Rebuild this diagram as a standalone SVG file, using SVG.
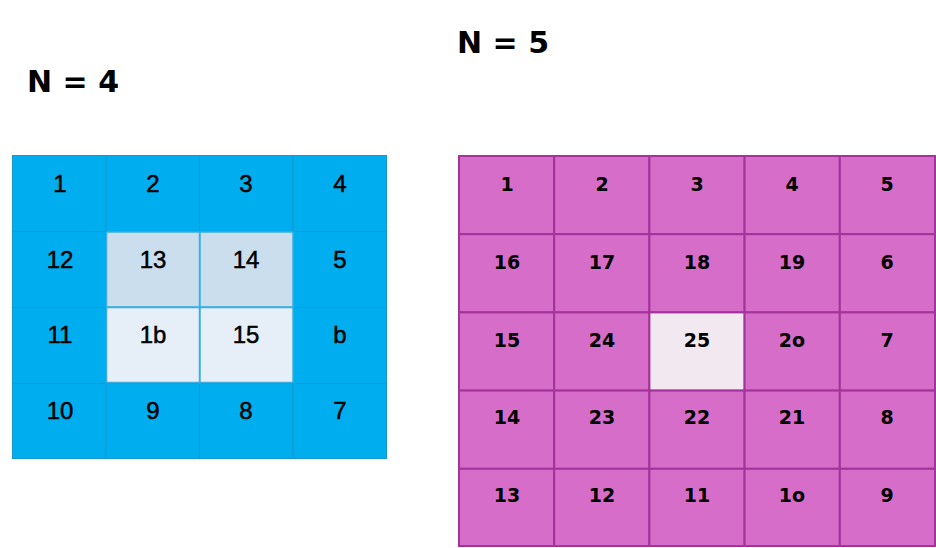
<svg xmlns="http://www.w3.org/2000/svg" width="936" height="548" viewBox="0 0 936 548">
<style>
.b{fill:#00AEEF;stroke:#1598CC;stroke-width:1}
.l1{fill:#CBDEEE;stroke:#3AAEE0;stroke-width:1.5}
.l2{fill:#E6EFF8;stroke:#3AAEE0;stroke-width:1.5}
.m{fill:#D66DC8;stroke:#A4339B;stroke-width:2}
.w{fill:#F2E8F0;stroke:#A4339B;stroke-width:2}
.t{font-family:"Liberation Sans",Arial,sans-serif;font-size:24px;fill:#000;stroke:#000;stroke-width:0.5;text-anchor:middle;dominant-baseline:central}
.s{font-family:"DejaVu Sans",sans-serif;font-size:19px;font-weight:bold;fill:#000;text-anchor:middle;dominant-baseline:central}
.h{font-family:"DejaVu Sans",sans-serif;font-size:30px;font-weight:bold;fill:#000}
</style>
<rect width="936" height="548" fill="#fff"/>
<text class="h" x="27" y="92">N = 4</text>
<text class="h" x="457" y="53">N = 5</text>
<g id="grid4">
<rect x="12.5" y="155.5" width="374" height="303" fill="#00AEEF" stroke="#8FD3F2" stroke-width="1"/>
<g id="c4-1"><rect class="b" x="12.5" y="155.5" width="93.5" height="76"/><text class="t" x="60" y="183">1</text></g>
<g id="c4-2"><rect class="b" x="106" y="155.5" width="93.5" height="76"/><text class="t" x="153" y="183">2</text></g>
<g id="c4-3"><rect class="b" x="199.5" y="155.5" width="93.5" height="76"/><text class="t" x="246" y="183">3</text></g>
<g id="c4-4"><rect class="b" x="293" y="155.5" width="93.5" height="76"/><text class="t" x="340" y="183">4</text></g>
<g id="c4-12"><rect class="b" x="12.5" y="231.5" width="93.5" height="76"/><text class="t" x="60" y="259">12</text></g>
<g id="c4-5"><rect class="b" x="293" y="231.5" width="93.5" height="76"/><text class="t" x="340" y="259">5</text></g>
<g id="c4-11"><rect class="b" x="12.5" y="307.5" width="93.5" height="76"/><text class="t" x="60" y="334">11</text></g>
<g id="c4-6"><rect class="b" x="293" y="307.5" width="93.5" height="76"/><text class="t" x="340" y="334">b</text></g>
<g id="c4-10"><rect class="b" x="12.5" y="383.5" width="93.5" height="75"/><text class="t" x="60" y="410">10</text></g>
<g id="c4-9"><rect class="b" x="106" y="383.5" width="93.5" height="75"/><text class="t" x="153" y="410">9</text></g>
<g id="c4-8"><rect class="b" x="199.5" y="383.5" width="93.5" height="75"/><text class="t" x="246" y="410">8</text></g>
<g id="c4-7"><rect class="b" x="293" y="383.5" width="93.5" height="75"/><text class="t" x="340" y="410">7</text></g>
<g id="c4-13"><rect class="l1" x="106.5" y="232" width="93" height="75"/><text class="t" x="153" y="259">13</text></g>
<g id="c4-14"><rect class="l1" x="200" y="232" width="93" height="75"/><text class="t" x="246" y="259">14</text></g>
<g id="c4-16"><rect class="l2" x="106.5" y="307.5" width="93" height="75"/><text class="t" x="153" y="334">1b</text></g>
<g id="c4-15"><rect class="l2" x="200" y="307.5" width="93" height="75"/><text class="t" x="246" y="334">15</text></g>
</g>
<g id="grid5">
<g id="c5-1"><rect class="m" x="459" y="156" width="95.2" height="78.2"/><text class="s" x="507" y="184">1</text></g>
<g id="c5-2"><rect class="m" x="554.2" y="156" width="95.2" height="78.2"/><text class="s" x="602" y="184">2</text></g>
<g id="c5-3"><rect class="m" x="649.4" y="156" width="95.2" height="78.2"/><text class="s" x="697" y="184">3</text></g>
<g id="c5-4"><rect class="m" x="744.6" y="156" width="95.2" height="78.2"/><text class="s" x="792" y="184">4</text></g>
<g id="c5-5"><rect class="m" x="839.8" y="156" width="95.2" height="78.2"/><text class="s" x="887" y="184">5</text></g>
<g id="c5-16"><rect class="m" x="459" y="234.2" width="95.2" height="78.2"/><text class="s" x="507" y="262">16</text></g>
<g id="c5-17"><rect class="m" x="554.2" y="234.2" width="95.2" height="78.2"/><text class="s" x="602" y="262">17</text></g>
<g id="c5-18"><rect class="m" x="649.4" y="234.2" width="95.2" height="78.2"/><text class="s" x="697" y="262">18</text></g>
<g id="c5-19"><rect class="m" x="744.6" y="234.2" width="95.2" height="78.2"/><text class="s" x="792" y="262">19</text></g>
<g id="c5-6"><rect class="m" x="839.8" y="234.2" width="95.2" height="78.2"/><text class="s" x="887" y="262">6</text></g>
<g id="c5-15"><rect class="m" x="459" y="312.4" width="95.2" height="78.2"/><text class="s" x="507" y="340">15</text></g>
<g id="c5-24"><rect class="m" x="554.2" y="312.4" width="95.2" height="78.2"/><text class="s" x="602" y="340">24</text></g>
<g id="c5-25"><rect class="w" x="649.4" y="312.4" width="95.2" height="78.2"/><text class="s" x="697" y="340">25</text></g>
<g id="c5-20"><rect class="m" x="744.6" y="312.4" width="95.2" height="78.2"/><text class="s" x="792" y="340">2o</text></g>
<g id="c5-7"><rect class="m" x="839.8" y="312.4" width="95.2" height="78.2"/><text class="s" x="887" y="340">7</text></g>
<g id="c5-14"><rect class="m" x="459" y="390.6" width="95.2" height="78.2"/><text class="s" x="507" y="417">14</text></g>
<g id="c5-23"><rect class="m" x="554.2" y="390.6" width="95.2" height="78.2"/><text class="s" x="602" y="417">23</text></g>
<g id="c5-22"><rect class="m" x="649.4" y="390.6" width="95.2" height="78.2"/><text class="s" x="697" y="417">22</text></g>
<g id="c5-21"><rect class="m" x="744.6" y="390.6" width="95.2" height="78.2"/><text class="s" x="792" y="417">21</text></g>
<g id="c5-8"><rect class="m" x="839.8" y="390.6" width="95.2" height="78.2"/><text class="s" x="887" y="417">8</text></g>
<g id="c5-13"><rect class="m" x="459" y="468.8" width="95.2" height="77.2"/><text class="s" x="507" y="495">13</text></g>
<g id="c5-12"><rect class="m" x="554.2" y="468.8" width="95.2" height="77.2"/><text class="s" x="602" y="495">12</text></g>
<g id="c5-11"><rect class="m" x="649.4" y="468.8" width="95.2" height="77.2"/><text class="s" x="697" y="495">11</text></g>
<g id="c5-10"><rect class="m" x="744.6" y="468.8" width="95.2" height="77.2"/><text class="s" x="792" y="495">1o</text></g>
<g id="c5-9"><rect class="m" x="839.8" y="468.8" width="95.2" height="77.2"/><text class="s" x="887" y="495">9</text></g>
</g>
</svg>
